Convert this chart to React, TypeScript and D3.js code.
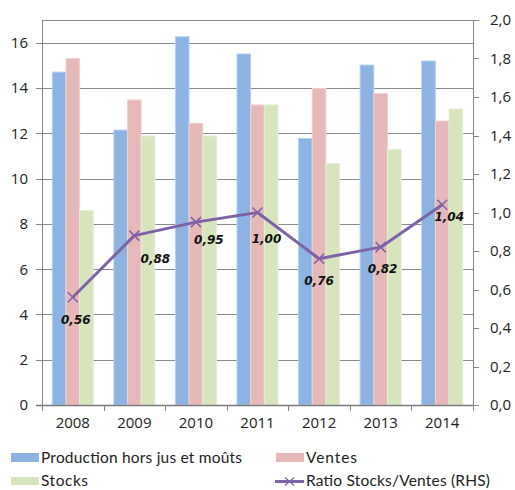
import { useEffect, useRef } from 'react'
import * as d3 from 'd3'

const years = ['2008', '2009', '2010', '2011', '2012', '2013', '2014']
const production = [14.7, 12.14, 16.26, 15.5, 11.77, 15.01, 15.19]
const ventes = [15.3, 13.47, 12.44, 13.25, 13.98, 13.76, 12.54]
const stocks = [8.58, 11.88, 11.88, 13.25, 10.67, 11.29, 13.07]
const ratio = [0.56, 0.88, 0.95, 1.0, 0.76, 0.82, 1.04]
const leftTicks = [0, 2, 4, 6, 8, 10, 12, 14, 16]
const rightTicks = [0, 0.2, 0.4, 0.6, 0.8, 1.0, 1.2, 1.4, 1.6, 1.8, 2.0]

const seriesNames = ['Production hors jus et moûts', 'Ventes', 'Stocks']
const lineName = 'Ratio Stocks/Ventes (RHS)'
const seriesColors = ['#8db3e2', '#e6b9b8', '#d7e4bd']
const seriesStroke = ['#b9d0ee', '#f0d2d1', '#e6eed5']
const lineColor = '#7f63a8'

// hand-placed data labels (offset from the marker, px)
const labelOffsets: [number, number][] = [
  [3, 22], [21, 23], [13, 18], [9, 26], [0, 22], [2, 22], [7, 12],
]

const W = 515
const H = 490
const left = 42
const right = 473
const top = 20
const bottom = 405
const tickFont = '"Open Sans", sans-serif'
const legendFont = 'Lato, "Open Sans", sans-serif'

export default function App() {
  const ref = useRef<SVGSVGElement | null>(null)

  useEffect(() => {
    if (!ref.current) {return}
    const svg = d3.select(ref.current).select<SVGGElement>('g.chart')
    svg.selectAll('*').remove()

    const x = d3.scaleBand<string>().domain(years).range([left, right]).paddingInner(0)
    const bw = x.bandwidth()
    const x1 = d3
      .scaleBand<number>()
      .domain([0, 1, 2])
      .range([(bw * 0.75) / 4.5, (bw * 3.75) / 4.5])
    const y = d3.scaleLinear().domain([0, 17]).range([bottom, top])
    const y2 = d3.scaleLinear().domain([0, 2]).range([bottom, top])
    const fmt = (v: number) => d3.format('.1f')(v).replace('.', ',')
    const snap = (v: number) => Math.round(v) + 0.5

    // gridlines + top frame
    svg
      .append('g')
      .selectAll('line')
      .data([...leftTicks.filter((t) => t > 0), 17])
      .join('line')
      .attr('x1', left)
      .attr('x2', right)
      .attr('y1', (d) => snap(y(d)))
      .attr('y2', (d) => snap(y(d)))
      .attr('stroke', '#8a8a8a')

    // bars
    const all = [production, ventes, stocks]
    all.forEach((vals, si) => {
      svg
        .append('g')
        .selectAll('rect')
        .data(vals)
        .join('rect')
        .attr('x', (_, i) => (x(years[i]) ?? 0) + (x1(si) ?? 0))
        .attr('width', x1.bandwidth())
        .attr('y', (d) => y(d))
        .attr('height', (d) => bottom - y(d))
        .attr('fill', seriesColors[si])
        .attr('stroke', seriesStroke[si])
        .attr('stroke-width', 1)
    })

    // left axis
    const gl = svg.append('g')
    gl.append('line')
      .attr('x1', left + 0.5).attr('x2', left + 0.5)
      .attr('y1', top).attr('y2', bottom)
      .attr('stroke', '#868686')
    gl.selectAll('line.t')
      .data(leftTicks)
      .join('line')
      .attr('class', 't')
      .attr('x1', left - 6).attr('x2', left)
      .attr('y1', (d) => snap(y(d))).attr('y2', (d) => snap(y(d)))
      .attr('stroke', '#868686')
    gl.selectAll('text')
      .data(leftTicks)
      .join('text')
      .attr('x', 28)
      .attr('y', (d) => y(d))
      .attr('dy', '0.36em')
      .attr('text-anchor', 'end')
      .attr('font-family', tickFont)
      .attr('font-size', 15)
      .attr('fill', '#222')
      .text((d) => String(d))

    // right axis
    const gr = svg.append('g')
    gr.append('line')
      .attr('x1', right + 0.5).attr('x2', right + 0.5)
      .attr('y1', top).attr('y2', bottom)
      .attr('stroke', '#868686')
    gr.selectAll('line.t')
      .data(rightTicks)
      .join('line')
      .attr('class', 't')
      .attr('x1', right).attr('x2', right + 6)
      .attr('y1', (d) => snap(y2(d))).attr('y2', (d) => snap(y2(d)))
      .attr('stroke', '#868686')
    gr.selectAll('text')
      .data(rightTicks)
      .join('text')
      .attr('x', 490)
      .attr('y', (d) => y2(d))
      .attr('dy', '0.36em')
      .attr('font-family', tickFont)
      .attr('font-size', 15)
      .attr('fill', '#222')
      .text((d) => fmt(d))

    // bottom axis
    const gb = svg.append('g')
    gb.append('line')
      .attr('x1', left - 6).attr('x2', right)
      .attr('y1', bottom + 0.5).attr('y2', bottom + 0.5)
      .attr('stroke', '#7a7a7a')
      .attr('stroke-width', 1.5)
    gb.selectAll('line.t')
      .data([...years.map((yr) => x(yr) ?? 0), right])
      .join('line')
      .attr('class', 't')
      .attr('x1', (d) => snap(d)).attr('x2', (d) => snap(d))
      .attr('y1', bottom).attr('y2', bottom + 6)
      .attr('stroke', '#868686')
    gb.selectAll('text')
      .data(years)
      .join('text')
      .attr('x', (d) => (x(d) ?? 0) + bw / 2)
      .attr('y', 428)
      .attr('text-anchor', 'middle')
      .attr('font-family', tickFont)
      .attr('font-size', 15)
      .attr('fill', '#222')
      .text((d) => d)

    // ratio line
    const cx = (i: number) => (x(years[i]) ?? 0) + bw / 2
    const line = d3
      .line<number>()
      .x((_, i) => cx(i))
      .y((d) => y2(d))
    svg
      .append('path')
      .datum(ratio)
      .attr('d', line)
      .attr('fill', 'none')
      .attr('stroke', lineColor)
      .attr('stroke-width', 3)
      .attr('stroke-linejoin', 'round')

    const s = 5
    const mk = svg.append('g')
    ratio.forEach((d, i) => {
      const px = cx(i)
      const py = y2(d)
      mk.append('path')
        .attr('d', `M${px - s},${py - s}L${px + s},${py + s}M${px - s},${py + s}L${px + s},${py - s}`)
        .attr('stroke', lineColor)
        .attr('stroke-width', 1.5)
        .attr('fill', 'none')
      mk.append('text')
        .attr('x', px + labelOffsets[i][0])
        .attr('y', py + labelOffsets[i][1])
        .attr('dy', '0.36em')
        .attr('text-anchor', 'middle')
        .attr('font-family', '"DejaVu Sans", sans-serif')
        .attr('font-size', 12)
        .attr('font-weight', 'bold')
        .attr('font-style', 'italic')
        .attr('fill', '#111')
        .text(d3.format('.2f')(d).replace('.', ','))
    })
  }, [])

  const legendText = { fontFamily: legendFont, fontSize: 15.5, fill: '#222' }
  return (
    <svg
      ref={ref}
      width={W}
      height={H}
      style={{ position: 'absolute', left: 0, top: 0, background: '#fff' }}
    >
      <g className="chart" />
      <g className="legend">
        <rect x={11} y={453} width={28} height={9} fill={seriesColors[0]} />
        <text x={41} y={463} textLength={201} style={legendText}>{seriesNames[0]}</text>
        <rect x={276} y={453} width={28} height={9} fill={seriesColors[1]} />
        <text x={306} y={463} textLength={51} style={legendText}>{seriesNames[1]}</text>
        <rect x={11} y={477} width={28} height={8} fill={seriesColors[2]} />
        <text x={41} y={486} textLength={47} style={legendText}>{seriesNames[2]}</text>
        <line x1={275} x2={304} y1={481.5} y2={481.5} stroke={lineColor} strokeWidth={3} />
        <path d="M285,477.5L294,485.5M285,485.5L294,477.5" stroke={lineColor} strokeWidth={1.2} fill="none" />
        <text x={306} y={486} textLength={184} style={legendText}>{lineName}</text>
      </g>
    </svg>
  )
}
